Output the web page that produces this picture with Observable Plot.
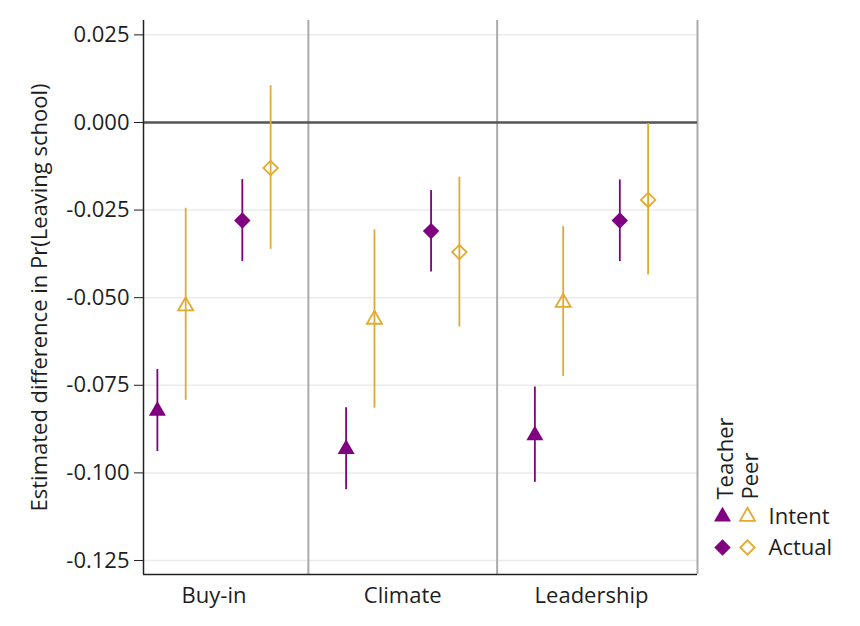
<!DOCTYPE html>
<html>
<head>
<meta charset="utf-8">
<script src="https://cdn.jsdelivr.net/npm/d3@7"></script>
<script src="https://cdn.jsdelivr.net/npm/@observablehq/plot@0.6"></script>
<style>
  body { margin: 0; background: #fff; font-family: "Open Sans", sans-serif; }
  #wrap { position: relative; width: 860px; height: 626px; }
  #legend { position: absolute; left: 700px; top: 400px; }
</style>
</head>
<body>
<div id="wrap"><div id="legend"></div></div>
<script>
// Domains
const categories = ["Buy-in", "Climate", "Leadership"];
const groups = ["Teacher", "Peer"];
const outcomes = ["Intent", "Actual"];
const yTicks = [0.025, 0, -0.025, -0.05, -0.075, -0.1, -0.125];

// Estimates with confidence bounds, one value per category
const teacherIntent     = [-0.0823, -0.0932, -0.0893];
const teacherIntentLow  = [-0.0939, -0.1048, -0.1027];
const teacherIntentHigh = [-0.0705, -0.0814, -0.0755];

const peerIntent     = [-0.0524, -0.0562, -0.0514];
const peerIntentLow  = [-0.0793, -0.0815, -0.0725];
const peerIntentHigh = [-0.0245, -0.0306, -0.0297];

const teacherActual     = [-0.0280, -0.0310, -0.0280];
const teacherActualLow  = [-0.0397, -0.0427, -0.0397];
const teacherActualHigh = [-0.0163, -0.0194, -0.0164];

const peerActual     = [-0.0130, -0.0370, -0.0221];
const peerActualLow  = [-0.0362, -0.0584, -0.0435];
const peerActualHigh = [0.0105, -0.0156, -0.0003];

// Build the long table
const series = [
  {group: "Teacher", outcome: "Intent", est: teacherIntent, lo: teacherIntentLow, hi: teacherIntentHigh},
  {group: "Peer",    outcome: "Intent", est: peerIntent,    lo: peerIntentLow,    hi: peerIntentHigh},
  {group: "Teacher", outcome: "Actual", est: teacherActual, lo: teacherActualLow, hi: teacherActualHigh},
  {group: "Peer",    outcome: "Actual", est: peerActual,    lo: peerActualLow,    hi: peerActualHigh}
];
const dodge = [-0.3, -0.15, 0.15, 0.3];
const rows = series.flatMap((s, si) => categories.map((c, ci) => ({
  category: c, group: s.group, outcome: s.outcome,
  pos: ci + 1 + dodge[si], est: s.est[ci], lo: s.lo[ci], hi: s.hi[ci]
})));

// Styling
const purple = "#800080";
const gold = "#e3aa30";
const groupColor = {Teacher: purple, Peer: gold};
const groupStyle = {
  Teacher: {fill: purple, stroke: "none"},
  Peer: {fill: "none", stroke: gold, strokeWidth: 1.8}
};
const shapeStyle = {
  Intent: {Teacher: {symbol: "triangle", r: 6.3}, Peer: {symbol: "triangle", r: 5.6}},
  Actual: {Teacher: {symbol: "diamond2", r: 7.4}, Peer: {symbol: "diamond2", r: 6.5}}
};

function pointMarks(data, x, y) {
  const marks = [];
  for (const g of groups) for (const o of outcomes) {
    marks.push(Plot.dot(data.filter(d => d.group === g && d.outcome === o), {
      x, y, ...shapeStyle[o][g], ...groupStyle[g]
    }));
  }
  return marks;
}

const xDomain = [0.6265, 3.5616];
const yDomain = [-0.129, 0.0291];
const dividers = [...d3.range(1.5, categories.length), xDomain[1]];
const font = '"Open Sans", sans-serif';

const chart = Plot.plot({
  width: 860,
  height: 626,
  marginLeft: 143,
  marginRight: 163,
  marginTop: 20,
  marginBottom: 52,
  style: {fontFamily: font, fontSize: "22px", color: "#1e1e1e", background: "white"},
  x: {domain: xDomain},
  y: {domain: yDomain},
  marks: [
    Plot.ruleY(yTicks, {stroke: "#ebebeb", strokeWidth: 1.5}),
    Plot.ruleX(dividers, {stroke: "#ababab", strokeWidth: 2}),
    Plot.ruleY([0], {stroke: "#555", strokeWidth: 2.5}),
    Plot.ruleX([xDomain[0]], {stroke: "#222", strokeWidth: 1.5}),
    Plot.ruleY([yDomain[0]], {stroke: "#222", strokeWidth: 1.5}),
    Plot.axisY({
      ticks: yTicks, tickFormat: d => d.toFixed(3), tickSize: 9, tickPadding: 5,
      label: "Estimated difference in Pr(Leaving school)", labelAnchor: "center",
      labelOffset: 112, labelArrow: "none"
    }),
    Plot.axisX({
      ticks: categories.map((_, i) => i + 1), tickFormat: i => categories[i - 1],
      tickSize: 0, tickPadding: 13, label: null
    }),
    ...groups.map(g => Plot.ruleX(rows.filter(d => d.group === g), {
      x: "pos", y1: "lo", y2: "hi", stroke: groupColor[g], strokeWidth: 1.8
    })),
    ...pointMarks(rows, "pos", "est")
  ]
});
document.getElementById("wrap").prepend(chart);

// Legend: marker columns for each group, rows for each outcome
const legendRows = groups.flatMap(g => outcomes.map(o => ({group: g, outcome: o})));
const legend = Plot.plot({
  width: 150,
  height: 170,
  margin: 0,
  style: {fontFamily: font, fontSize: "22px", color: "#1e1e1e", background: "transparent"},
  x: {type: "point", domain: groups, range: [22, 47], padding: 0, axis: null},
  y: {type: "point", domain: outcomes, range: [116, 147], padding: 0, axis: null},
  marks: [
    Plot.text(groups, {x: d => d, y: () => outcomes[0], dx: 3, dy: -17, rotate: -90, textAnchor: "start"}),
    ...pointMarks(legendRows, "group", "outcome"),
    Plot.text(outcomes, {x: () => groups[groups.length - 1], y: d => d, dx: 21, textAnchor: "start"})
  ]
});
document.getElementById("legend").append(legend);
</script>
</body>
</html>
